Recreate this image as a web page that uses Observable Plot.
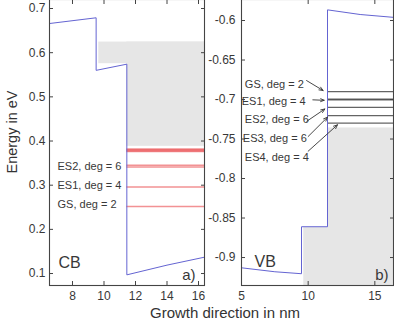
<!DOCTYPE html>
<html><head><meta charset="utf-8">
<script src="https://cdn.jsdelivr.net/npm/d3@7"></script>
<script src="https://cdn.jsdelivr.net/npm/@observablehq/plot@0.6"></script>
<style>
html,body{margin:0;padding:0;background:#fff;overflow:hidden;}
#wrap{position:relative;width:394px;height:327px;overflow:hidden;font-family:"Liberation Sans",Arial,sans-serif;color:#333;}
#wrap svg{position:absolute;top:-2px;}
.lbl{position:absolute;white-space:nowrap;color:#333;line-height:1;}
</style></head><body>
<div id="wrap"></div>
<script>
// ---- Data ----
// Conduction band profile (panel a)
const cbX = [6.54, 9.5, 9.5, 11.45, 11.45, 14.0, 16.38];
const cbY = [0.666, 0.679, 0.560, 0.574, 0.097, 0.119, 0.137];
// Continuum (grey) regions, panel a
const cbGreyX1 = [9.67, 11.45];
const cbGreyX2 = [16.38, 16.38];
const cbGreyY1 = [0.575, 0.388];
const cbGreyY2 = [0.624, 0.624];
// Electron levels
const cbLevels = [0.252, 0.296, 0.341, 0.345, 0.376, 0.378, 0.380, 0.382];
const cbLabels = ["ES2, deg = 6", "ES1, deg = 4", "GS, deg = 2"];
const cbLabelY = [0.343, 0.300, 0.257];

// Valence band profile (panel b)
const vbX = [5.0, 7.5, 9.5, 9.5, 11.45, 11.45, 13.9, 16.4];
const vbY = [-0.913, -0.918, -0.9205, -0.861, -0.861, -0.5865, -0.5924, -0.596];
const vbGreyX1 = [9.67, 11.45];
const vbGreyX2 = [16.4, 16.4];
const vbGreyY1 = [-0.9354, -0.9354];
const vbGreyY2 = [-0.862, -0.736];
// Hole levels
const vbLevels = [-0.690, -0.6995, -0.7005, -0.710, -0.7205, -0.730];
const vbLabels = ["GS, deg = 2", "ES1, deg = 4", "ES2, deg = 6", "ES3, deg = 6", "ES4, deg = 4"];
const vbLabelX = [5.25, 5.02, 5.25, 5.1, 5.25];
const vbLabelY = [-0.681, -0.7022, -0.7253, -0.7494, -0.7734];
const arrX1 = [9.88, 10.35, 9.9, 10.0, 10.0];
const arrY1 = [-0.676, -0.7004, -0.7275, -0.7468, -0.7654];
const arrX2 = [11.12, 11.2, 11.25, 11.45, 12.2];
const arrY2 = [-0.6886, -0.701, -0.712, -0.7224, -0.732];

// Ticks
const xTicksA = [8, 10, 12, 14, 16];
const yTicksA = [0.1, 0.2, 0.3, 0.4, 0.5, 0.6, 0.7];
const xTicksB = [5, 10, 15];
const yTicksB = [-0.9, -0.85, -0.8, -0.75, -0.7, -0.65, -0.6];

const xDomA = [6.54, 16.38], yDomA = [0.0729, 0.7204];
const xDomB = [5, 16.4], yDomB = [-0.9354, -0.5734];

const font = '"Liberation Sans", Arial, sans-serif';
const axisCol = "#444", textCol = "#383838";

function boxAxes(xt, yt, pad) {
  return [
    Plot.axisX(xt, {anchor: "bottom", tickSize: 0, tickPadding: 6, fontSize: 12, label: null, tickFormat: d => String(d), fill: textCol}),
    Plot.axisY(yt, {anchor: "left", tickSize: 0, tickPadding: pad, fontSize: 12, label: null, tickFormat: d => String(d), fill: textCol}),
    Plot.axisX(xt, {anchor: "bottom", tickSize: 4, dy: -4, fill: "none", label: null, stroke: axisCol}),
    Plot.axisX(xt, {anchor: "top", tickSize: 4, dy: 4, fill: "none", label: null, stroke: axisCol}),
    Plot.axisY(yt, {anchor: "left", tickSize: 4, dx: 4, fill: "none", label: null, stroke: axisCol}),
    Plot.axisY(yt, {anchor: "right", tickSize: 4, dx: -4, fill: "none", label: null, stroke: axisCol}),
    Plot.frame({stroke: axisCol, strokeWidth: 1.1})
  ];
}

const styleObj = {fontFamily: font, background: "transparent", overflow: "visible"};

const plotA = Plot.plot({
  width: 205, height: 307, marginLeft: 49, marginRight: 1, marginTop: 1, marginBottom: 20,
  x: {domain: xDomA, axis: null}, y: {domain: yDomA, axis: null},
  style: styleObj,
  marks: [
    Plot.rect(cbGreyX1, {x1: cbGreyX1, x2: cbGreyX2, y1: cbGreyY1, y2: cbGreyY2, fill: "#e6e6e6"}),
    Plot.ruleY(cbLevels, {y: d => d, x1: cbX[3], x2: xDomA[1], stroke: "#e8383d", strokeOpacity: 0.55, strokeWidth: 1.5}),
    Plot.line(cbX, {x: cbX, y: cbY, stroke: "#6464d2", strokeWidth: 1}),
    Plot.text(cbLabels, {x: 7.05, y: cbLabelY, text: d => d, textAnchor: "start", fontSize: 11, fill: textCol}),
    Plot.text(["CB"], {text: d => d, frameAnchor: "bottom-left", textAnchor: "start", lineAnchor: "middle", dx: 9, dy: -23, fontSize: 16, fill: textCol}),
    Plot.text(["a)"], {text: d => d, frameAnchor: "bottom-right", textAnchor: "end", lineAnchor: "middle", dx: -9, dy: -10.5, fontSize: 15, fill: textCol}),
    ...boxAxes(xTicksA, yTicksA, 4)
  ]
});
plotA.style.left = "0px";

const plotB = Plot.plot({
  width: 189, height: 307, marginLeft: 36, marginRight: 1, marginTop: 1, marginBottom: 20,
  x: {domain: xDomB, axis: null}, y: {domain: yDomB, axis: null},
  style: styleObj,
  marks: [
    Plot.rect(vbGreyX1, {x1: vbGreyX1, x2: vbGreyX2, y1: vbGreyY1, y2: vbGreyY2, fill: "#e6e6e6"}),
    Plot.ruleY(vbLevels, {y: d => d, x1: vbX[4], x2: xDomB[1], stroke: "#222", strokeOpacity: 0.7, strokeWidth: 1.2}),
    Plot.line(vbX, {x: vbX, y: vbY, stroke: "#6464d2", strokeWidth: 1}),
    Plot.text(vbLabels, {x: vbLabelX, y: vbLabelY, text: d => d, textAnchor: "start", fontSize: 11, fill: textCol}),
    Plot.arrow(arrX1, {x1: arrX1, y1: arrY1, x2: arrX2, y2: arrY2, stroke: "#333", strokeWidth: 0.9, headLength: 7, headAngle: 45}),
    Plot.text(["VB"], {text: d => d, frameAnchor: "bottom-left", textAnchor: "start", lineAnchor: "middle", dx: 13, dy: -24, fontSize: 16, fill: textCol}),
    Plot.text(["b)"], {text: d => d, frameAnchor: "bottom-right", textAnchor: "end", lineAnchor: "middle", dx: -5, dy: -10.5, fontSize: 15, fill: textCol}),
    ...boxAxes(xTicksB, yTicksB, 6)
  ]
});
plotB.style.left = "205px";

const wrap = document.getElementById("wrap");
wrap.appendChild(plotA);
wrap.appendChild(plotB);

const yl = document.createElement("div");
yl.className = "lbl";
yl.textContent = "Energy in eV";
yl.style.cssText += "left:12px;top:132px;font-size:14.5px;transform:translate(-50%,-50%) rotate(-90deg);";
wrap.appendChild(yl);

const xl = document.createElement("div");
xl.className = "lbl";
xl.textContent = "Growth direction in nm";
xl.style.cssText += "left:225px;top:312px;font-size:15px;transform:translate(-50%,-50%);";
wrap.appendChild(xl);
</script>
</body></html>
